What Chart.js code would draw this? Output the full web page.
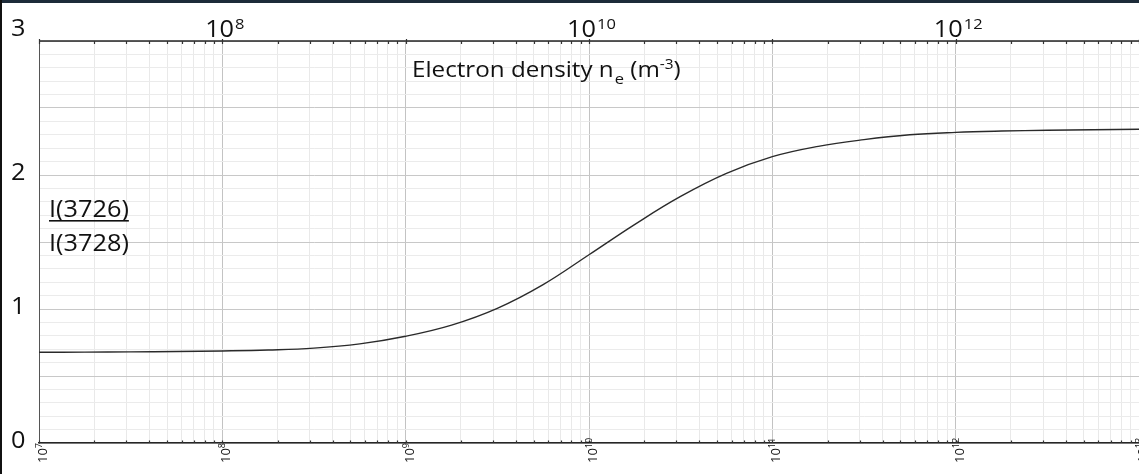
<!DOCTYPE html>
<html>
<head>
<meta charset="utf-8">
<script src="https://cdn.jsdelivr.net/npm/chart.js@4.4.1/dist/chart.umd.min.js"></script>
<style>
  body { margin: 0; background: #fff; }
  #wrap { width: 1139px; height: 474px; }
</style>
</head>
<body>
<div id="wrap"><canvas id="ratioChart" width="1139" height="474"></canvas></div>
<script>
// electron density n_e (m^-3), quarter-decade steps, and ratio I(3726)/I(3728)
const densities = [1e7, 1.78e7, 3.16e7, 5.62e7, 1e8, 1.78e8, 3.16e8, 5.62e8, 1e9, 1.78e9, 3.16e9, 5.62e9,
    1e10, 1.78e10, 3.16e10, 5.62e10, 1e11, 1.78e11, 3.16e11, 5.62e11, 1e12, 1.78e12, 3.16e12, 5.62e12, 1e13];
const ratios = [0.677, 0.678, 0.680, 0.683, 0.687, 0.694, 0.708, 0.740, 0.797, 0.880, 1.005, 1.182,
    1.405, 1.632, 1.840, 2.012, 2.137, 2.214, 2.264, 2.300, 2.318, 2.328, 2.334, 2.338, 2.341];

// axis labels
const bottomExponents = [7, 8, 9, 10, 11, 12, 13];
const topExponents = [8, 10, 12];
const yLabels = [0, 1, 2, 3];
const xTitle = ["Electron density n", "e", " (m", "-3", ")"];
const yTitleTop = "I(3726)";
const yTitleBottom = "I(3728)";

const FONT = "'Open Sans', sans-serif";
const STRETCH = 1.1; // text in the original is a bit wider

// log grid: 1..9 x 10^n
const xGridValues = [];
for (let e = 7; e < 13; e++) {
    for (let m = 1; m <= 9; m++) xGridValues.push(m * Math.pow(10, e));
}
xGridValues.push(1e13);

// y grid every 0.1
const yGridValues = [];
for (let i = 0; i <= 30; i++) yGridValues.push(i / 10);

function isDecade(v) {
    const l = Math.log10(v);
    return Math.abs(l - Math.round(l)) < 1e-9;
}

// draws text widened a little, returns the width used
function wideText(c, text, x, y, size) {
    c.font = size + "px " + FONT;
    c.save();
    c.translate(x, y);
    c.scale(STRETCH, 1);
    c.fillText(text, 0, 0);
    c.restore();
    return c.measureText(text).width * STRETCH;
}

function wideWidth(c, text, size) {
    c.font = size + "px " + FONT;
    return c.measureText(text).width * STRETCH;
}

// draw frame, tick marks and all text
const decorPlugin = {
    id: "decor",
    beforeDraw(chart) {
        const c = chart.ctx;
        c.save();
        c.fillStyle = "#ffffff";
        c.fillRect(0, 0, chart.width, chart.height);
        c.restore();
    },
    afterDraw(chart) {
        const c = chart.ctx;
        const area = chart.chartArea;
        const xs = chart.scales.x;
        const ys = chart.scales.y;
        c.save();

        // dark window edges
        c.fillStyle = "#1d2b39";
        c.fillRect(0, 0, chart.width, 3);
        c.fillStyle = "#111";
        c.fillRect(0, 0, 2, chart.height);

        // top frame line
        c.strokeStyle = "#262626";
        c.lineWidth = 1.5;
        c.beginPath();
        c.moveTo(area.left, area.top);
        c.lineTo(area.right, area.top);
        c.stroke();

        // small tick marks top and bottom
        c.lineWidth = 1.2;
        c.strokeStyle = "#333";
        xs.ticks.forEach(t => {
            const px = Math.round(xs.getPixelForValue(t.value)) + 0.5;
            const big = isDecade(t.value);
            c.beginPath();
            c.moveTo(px, area.top - (big ? 2 : 0));
            c.lineTo(px, area.top + 3);
            c.moveTo(px, area.bottom);
            c.lineTo(px, area.bottom - 2.5);
            c.stroke();
        });

        c.fillStyle = "#111";
        c.textBaseline = "alphabetic";
        c.textAlign = "left";

        // top labels 10^n centred on the decade
        topExponents.forEach(e => {
            const px = xs.getPixelForValue(Math.pow(10, e));
            const wBase = wideWidth(c, "10", 23);
            const wExp = wideWidth(c, String(e), 15);
            const x0 = px - (wBase + wExp) / 2 + 2;
            wideText(c, "10", x0, 37, 23);
            wideText(c, String(e), x0 + wBase + 1, 29, 15);
        });

        // bottom labels, rotated
        bottomExponents.forEach(e => {
            const px = xs.getPixelForValue(Math.pow(10, e));
            c.save();
            c.translate(px + 8, area.bottom + 20);
            c.rotate(-Math.PI / 2);
            c.font = "13px " + FONT;
            c.fillText("10", 0, 0);
            const w = c.measureText("10").width;
            c.font = "9px " + FONT;
            c.fillText(String(e), w, -5);
            c.restore();
        });

        // y labels
        yLabels.forEach(v => {
            const py = ys.getPixelForValue(v);
            const base = v === yLabels[yLabels.length - 1] ? py - 5 : py + 5;
            wideText(c, String(v), 11, base, 23);
        });

        // x title with subscript / superscript
        let tx = area.left + 373;
        const ty = area.top + 36;
        tx += wideText(c, xTitle[0], tx, ty, 22) + 1;
        tx += wideText(c, xTitle[1], tx, ty + 7, 15);
        tx += wideText(c, xTitle[2], tx, ty, 22);
        tx += wideText(c, xTitle[3], tx, ty - 8, 14);
        wideText(c, xTitle[4], tx, ty, 22);

        // y title as a fraction
        const yx = area.left + 10;
        const uw = wideText(c, yTitleTop, yx, 217, 23);
        c.fillRect(yx, 220, uw, 1.6);
        wideText(c, yTitleBottom, yx, 251, 23);

        c.restore();
    }
};

const ctx = document.getElementById("ratioChart").getContext("2d");
const ratioChart = new Chart(ctx, {
    type: "line",
    data: {
        datasets: [{
            data: densities.map((n, i) => ({ x: n, y: ratios[i] })),
            borderColor: "#2a2a2a",
            borderWidth: 1.4,
            pointRadius: 0,
            fill: false,
            tension: 0.4
        }]
    },
    options: {
        responsive: false,
        animation: false,
        devicePixelRatio: 1,
        layout: { padding: { left: 39, top: 41, right: 0, bottom: 31 } },
        plugins: { legend: { display: false }, tooltip: { enabled: false } },
        scales: {
            x: {
                type: "logarithmic",
                min: 1e7,
                max: 1e13,
                afterBuildTicks: axis => { axis.ticks = xGridValues.map(v => ({ value: v })); },
                ticks: { display: false, autoSkip: false },
                grid: {
                    drawTicks: false,
                    color: c => (c.tick && isDecade(c.tick.value)) ? "#c3c3c3" : "#e9e9e9",
                    lineWidth: 1
                },
                border: { display: true, color: "#262626", width: 1.5 }
            },
            y: {
                min: 0,
                max: 3,
                afterBuildTicks: axis => { axis.ticks = yGridValues.map(v => ({ value: v })); },
                ticks: { display: false, autoSkip: false },
                grid: {
                    drawTicks: false,
                    color: c => {
                        if (!c.tick) return "#ebebeb";
                        const v = Math.round(c.tick.value * 10);
                        return v % 5 === 0 ? "#c8c8c8" : "#ebebeb";
                    },
                    lineWidth: 1
                },
                border: { display: true, color: "#555", width: 1 }
            }
        }
    },
    plugins: [decorPlugin]
});
</script>
</body>
</html>
